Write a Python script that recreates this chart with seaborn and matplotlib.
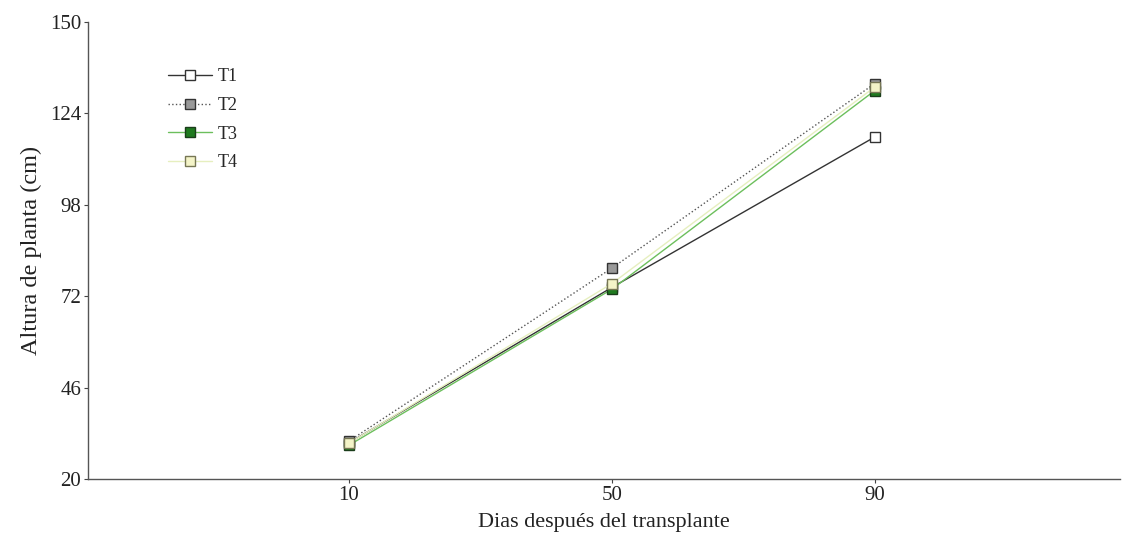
import matplotlib
matplotlib.use('Agg')
import matplotlib.pyplot as plt
import pandas as pd
import seaborn as sns

# Data
days = [10, 50, 90]
t1 = [30.3, 74.5, 117.3]
t2 = [30.8, 80.0, 132.5]
t3 = [29.6, 74.0, 130.5]
t4 = [30.2, 75.6, 131.5]
series_names = ['T1', 'T2', 'T3', 'T4']
y_ticks = [20, 46, 72, 98, 124, 150]

df = pd.DataFrame({'dias': days * 4,
                   'altura': t1 + t2 + t3 + t4,
                   'trat': [n for n in series_names for _ in days]})

sns.set_style('ticks')
plt.rcParams['font.family'] = ['Liberation Serif', 'DejaVu Serif']

fig = plt.figure(figsize=(11.29, 5.37), dpi=100)
ax = fig.add_axes([0.078, 0.108, 0.914, 0.851])

# line colour, linestyle, marker face, marker edge
styles = {
    'T1': ('#333333', '-', 'white', '#333333'),
    'T2': ('#555555', ':', '#999999', '#333333'),
    'T3': ('#6cbf5c', '-', '#1f7a1f', '#1a3d1a'),
    'T4': ('#e6efbf', '-', '#f4f4c8', '#777755'),
}

for name in series_names:
    col, ls, mfc, mec = styles[name]
    sub = df[df['trat'] == name]
    sns.lineplot(data=sub, x='dias', y='altura', ax=ax, color=col,
                 linestyle=ls, linewidth=1.0, marker='s', markersize=7,
                 markerfacecolor=mfc, markeredgecolor=mec, markeredgewidth=1.0,
                 label=name)

ax.set_xlim(-29.7, 127.3)
ax.set_ylim(20, 150)
ax.set_xticks(days)
ax.set_yticks(y_ticks)
ax.tick_params(labelsize=15, length=3, width=0.8, pad=2,
               colors='#444444', labelcolor='#222222')
ax.set_xlabel('Dias después del transplante', fontsize=16, color='#222222', labelpad=6)
ax.set_ylabel('Altura de planta (cm)', fontsize=17.5, color='#222222', labelpad=6)
for s in ['left', 'bottom']:
    ax.spines[s].set_color('#555555')
    ax.spines[s].set_linewidth(1.0)
sns.despine(ax=ax)

ax.legend(loc='upper left', bbox_to_anchor=(0.062, 0.934), frameon=False,
          fontsize=13, handlelength=2.4, labelspacing=0.64, handletextpad=0.35)

fig.savefig('out.png', dpi=100)
